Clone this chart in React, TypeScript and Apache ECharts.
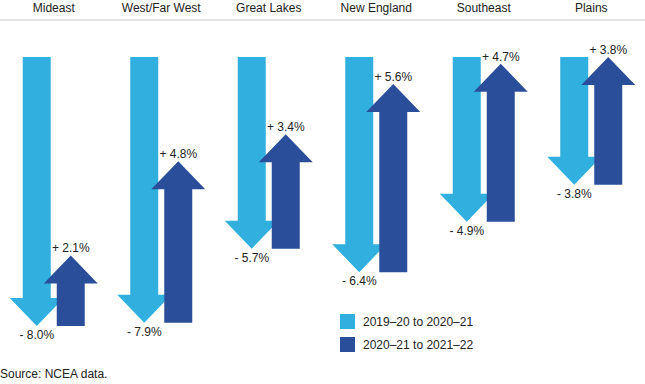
import React, { useEffect, useRef } from "react";
import * as echarts from "echarts";

const regions = ["Mideast", "West/Far West", "Great Lakes", "New England", "Southeast", "Plains"];
const decline = [8.0, 7.9, 5.7, 6.4, 4.9, 3.8];
const increase = [2.1, 4.8, 3.4, 5.6, 4.7, 3.8];
const seriesNames = ["2019\u201320 to 2020\u201321", "2020\u201321 to 2021\u201322"];
const sourceNote = "Source: NCEA data.";

const LIGHT = "#31B0E0";
const DARK = "#2B4E9A";
const FONT = '"Liberation Sans", Arial, Helvetica, sans-serif';

const SHAFT = 14;
const HEAD = 27;
const HEAD_LEN = 28;
const OFFSET = 17;

export default function App() {
  const ref = useRef<HTMLDivElement>(null);
  useEffect(() => {
    if (!ref.current) return;
    const chart = echarts.init(ref.current, undefined, { renderer: "svg" });

    const downData = regions.map((_, i) => [i, 0, -decline[i]]);
    const upData = regions.map((_, i) => [i, -decline[i], -decline[i] + increase[i]]);

    const renderDown = (params: any, api: any) => {
      const i = api.value(0);
      const top = api.coord([i, api.value(1)]);
      const tip = api.coord([i, api.value(2)]);
      const cx = top[0] - OFFSET;
      const yTop = top[1];
      const yTip = tip[1];
      const yHead = yTip - HEAD_LEN;
      return {
        type: "group",
        children: [
          {
            type: "polygon",
            shape: {
              points: [
                [cx - SHAFT, yTop],
                [cx + SHAFT, yTop],
                [cx + SHAFT, yHead],
                [cx + HEAD, yHead],
                [cx, yTip],
                [cx - HEAD, yHead],
                [cx - SHAFT, yHead],
              ],
            },
            style: { fill: LIGHT },
          },
          {
            type: "text",
            x: cx,
            y: yTip + 3,
            style: {
              text: "- " + decline[i].toFixed(1) + "%",
              fill: "#222",
              font: "12px " + FONT,
              align: "center",
              verticalAlign: "top",
            },
          },
        ],
      };
    };

    const renderUp = (params: any, api: any) => {
      const i = api.value(0);
      const base = api.coord([i, api.value(1)]);
      const tip = api.coord([i, api.value(2)]);
      const cx = base[0] + OFFSET;
      const yBase = base[1];
      const yTip = tip[1];
      const yHead = yTip + HEAD_LEN;
      return {
        type: "group",
        children: [
          {
            type: "polygon",
            shape: {
              points: [
                [cx - SHAFT, yBase],
                [cx + SHAFT, yBase],
                [cx + SHAFT, yHead],
                [cx + HEAD, yHead],
                [cx, yTip],
                [cx - HEAD, yHead],
                [cx - SHAFT, yHead],
              ],
            },
            style: { fill: DARK },
          },
          {
            type: "text",
            x: cx,
            y: yTip - 1,
            style: {
              text: "+ " + increase[i].toFixed(1) + "%",
              fill: "#222",
              font: "12px " + FONT,
              align: "center",
              verticalAlign: "bottom",
            },
          },
        ],
      };
    };

    chart.setOption({
      animation: false,
      grid: { left: -4.4, width: 652.8, top: 57, height: 269 },
      xAxis: {
        type: "category",
        data: regions,
        position: "top",
        offset: 37,
        axisLine: { show: true, onZero: false, lineStyle: { color: "#e4e4e4", width: 2 } },
        axisTick: { show: false },
        axisLabel: { margin: 6, color: "#222", fontSize: 12, fontFamily: FONT, interval: 0 },
        splitLine: { show: false },
      },
      yAxis: { type: "value", min: -8, max: 0, show: false },
      legend: {
        orient: "vertical",
        left: 340,
        top: 314,
        padding: 0,
        itemWidth: 15,
        itemHeight: 15,
        itemGap: 8,
        icon: "rect",
        textStyle: { color: "#222", fontSize: 12, fontFamily: FONT, padding: [0, 0, 0, 3] },
        data: seriesNames,
      },
      graphic: [
        {
          type: "text",
          left: 0,
          top: 368,
          style: { text: sourceNote, fill: "#222", font: "12px " + FONT },
        },
      ],
      series: [
        {
          name: seriesNames[0],
          type: "custom",
          clip: false,
          renderItem: renderDown,
          itemStyle: { color: LIGHT },
          encode: { x: 0, y: [1, 2] },
          data: downData,
        },
        {
          name: seriesNames[1],
          type: "custom",
          clip: false,
          renderItem: renderUp,
          itemStyle: { color: DARK },
          encode: { x: 0, y: [1, 2] },
          data: upData,
        },
      ],
    });
    return () => chart.dispose();
  }, []);
  return (
    <div
      ref={ref}
      style={{ position: "absolute", left: 0, top: 0, width: 645, height: 384, background: "#fff" }}
    />
  );
}
